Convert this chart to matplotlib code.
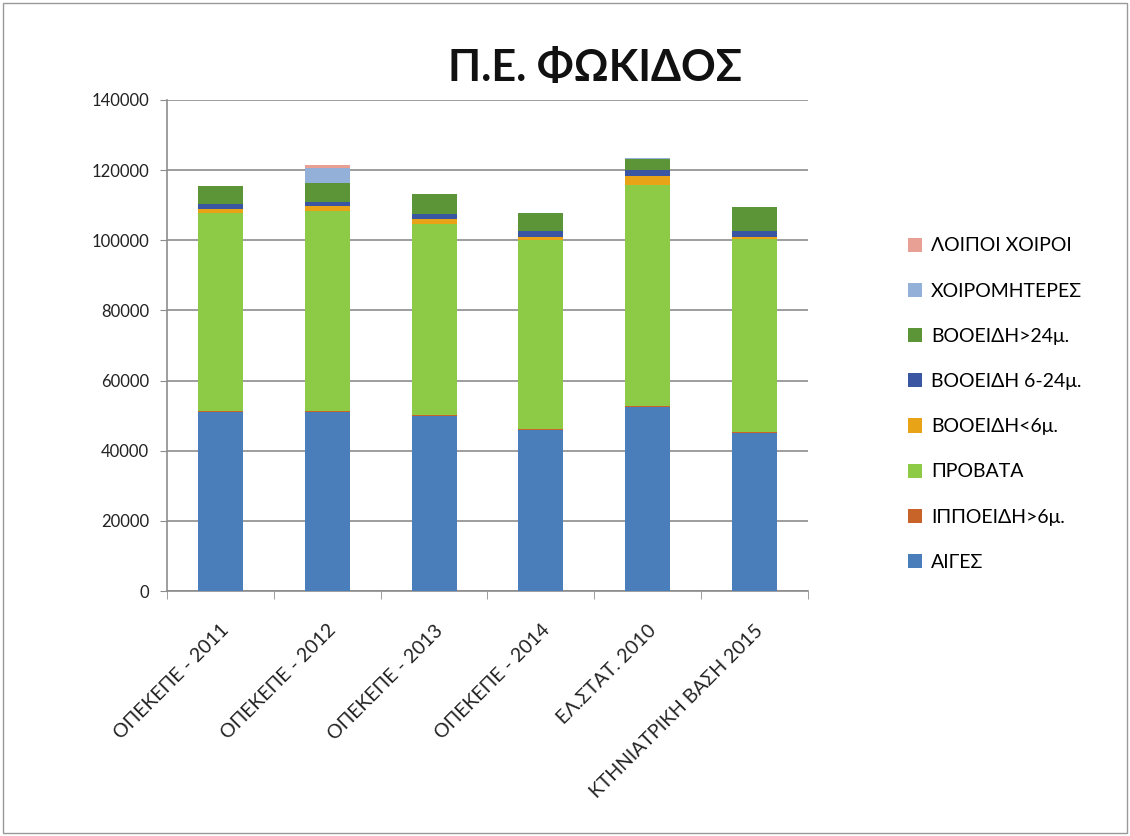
import numpy as np
import matplotlib.pyplot as plt

plt.rcParams['font.family'] = ['Lato', 'Open Sans', 'DejaVu Sans']

categories = ["ΟΠΕΚΕΠΕ - 2011", "ΟΠΕΚΕΠΕ - 2012", "ΟΠΕΚΕΠΕ - 2013",
              "ΟΠΕΚΕΠΕ - 2014", "ΕΛ.ΣΤΑΤ. 2010", "ΚΤΗΝΙΑΤΡΙΚΗ ΒΑΣΗ 2015"]

aiges = [51100, 51000, 49800, 46000, 52400, 45100]
ippoeidi = [350, 350, 300, 300, 300, 300]
provata = [56200, 57100, 54500, 53900, 63200, 55100]
vooeidi_lt6 = [1200, 1400, 1400, 650, 2550, 350]
vooeidi_6_24 = [1400, 1100, 1400, 1900, 1700, 1900]
vooeidi_gt24 = [5200, 5500, 5700, 4900, 3000, 6800]
xoiromiteres = [150, 4250, 0, 0, 200, 0]
loipoi_xoiroi = [0, 650, 0, 0, 150, 0]

series = [
    ("ΑΙΓΕΣ", aiges, "#4A7EBB"),
    ("ΙΠΠΟΕΙΔΗ>6μ.", ippoeidi, "#C8642A"),
    ("ΠΡΟΒΑΤΑ", provata, "#8DCB47"),
    ("ΒΟΟΕΙΔΗ<6μ.", vooeidi_lt6, "#E8A317"),
    ("ΒΟΟΕΙΔΗ 6-24μ.", vooeidi_6_24, "#3A56A3"),
    ("ΒΟΟΕΙΔΗ>24μ.", vooeidi_gt24, "#5B9538"),
    ("ΧΟΙΡΟΜΗΤΕΡΕΣ", xoiromiteres, "#93B1D8"),
    ("ΛΟΙΠΟΙ ΧΟΙΡΟΙ", loipoi_xoiroi, "#E8A094"),
]

fig = plt.figure(figsize=(11.3, 8.36), dpi=100)
ax = fig.add_axes([167 / 1130, 1 - 591 / 836, 641 / 1130, 491 / 836])

x = np.arange(len(categories))
bottom = np.zeros(len(categories))
for name, vals, col in series:
    ax.bar(x, vals, width=0.42, bottom=bottom, color=col, label=name, zorder=3)
    bottom += np.array(vals)

ax.set_xlim(-0.5, len(categories) - 0.5)
ax.set_ylim(0, 140000)
ax.set_yticks(np.arange(0, 140001, 20000))
ax.yaxis.grid(True, color="#8c8c8c", linewidth=1.2, zorder=0)
ax.set_axisbelow(True)

ax.set_xticks(x)
ax.set_xticklabels(categories, rotation=45, ha="right", rotation_mode="anchor",
                   fontsize=14, color="#222222")
ax.set_xticks(np.arange(-0.5, len(categories)), minor=True)
ax.tick_params(axis="x", which="major", length=0, pad=22)
ax.tick_params(axis="x", which="minor", length=6, color="#8c8c8c")
ax.tick_params(axis="y", length=5, color="#8c8c8c", labelsize=12, labelcolor="#222222", pad=8)

for s in ["top", "right"]:
    ax.spines[s].set_visible(False)
for s in ["left", "bottom"]:
    ax.spines[s].set_color("#8c8c8c")
    ax.spines[s].set_linewidth(1.2)

fig.text(595 / 1130, 1 - 68 / 836, "Π.Ε. ΦΩΚΙΔΟΣ", fontsize=31, fontweight="bold",
         ha="center", va="center", color="#111111")

h, l = ax.get_legend_handles_labels()
leg = fig.legend(h[::-1], l[::-1], loc="upper left", bbox_to_anchor=(890 / 1130, 1 - 220 / 836),
                 frameon=False, fontsize=14, labelspacing=1.45, handlelength=0.75,
                 handleheight=0.75, handletextpad=0.45)

border = plt.Rectangle((0.003, 0.003), 0.994, 0.994, transform=fig.transFigure,
                       fill=False, edgecolor="#999999", linewidth=1)
fig.patches.append(border)

fig.savefig("out.png", dpi=100)
